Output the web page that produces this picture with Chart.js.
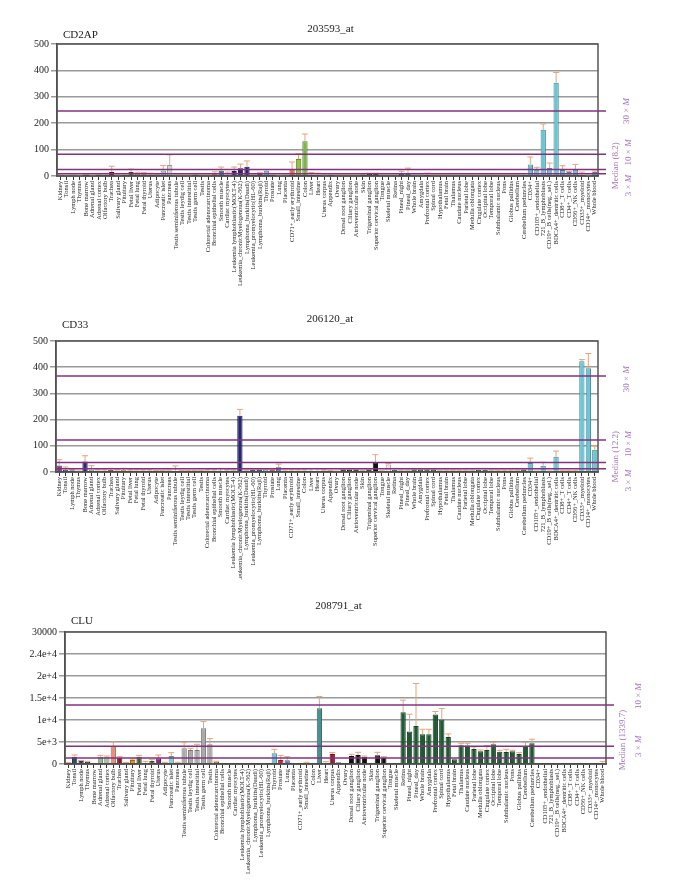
<!DOCTYPE html>
<html>
<head>
<meta charset="utf-8">
<script src="https://cdn.jsdelivr.net/npm/chart.js@4"></script>
<style>
  body { margin: 0; background: #fff; width: 680px; height: 881px; position: relative; overflow: hidden; }
  canvas { position: absolute; left: 0; }
</style>
</head>
<body>
<canvas id="c1" width="680" height="292" style="top:0px"></canvas>
<canvas id="c2" width="680" height="290" style="top:292px"></canvas>
<canvas id="c3" width="680" height="301" style="top:580px"></canvas>
<script>
// tissue names (same order in all three panels)
const tissues = ['Kidney', 'Tonsil', 'Lymph node', 'Thymus', 'Bone marrow', 'Adrenal gland', 'Adrenal cortex',
  'Olfactory bulb', 'Trachea', 'Salivary gland', 'Pituitary', 'Fetal liver', 'Fetal lung', 'Fetal thyroid',
  'Uterus', 'Adipocyte', 'Pancreatic islet', 'Pancreas', 'Testis seminiferous tubule', 'Testis leydig cell',
  'Testis interstitial', 'Testis germ cell', 'Testis', 'Colorectal adenocarcinoma', 'Bronchial epithelial cells',
  'Smooth muscle', 'Cardiac myocytes', 'Leukemia lymphoblastic(MOLT-4)', 'Leukemia_chronicMyelogenous(K-562)',
  'Lymphoma_burkitts(Daudi)', 'Leukemia_promyelocytic(HL-60)', 'Lymphoma_burkitts(Raji)', 'Thyroid', 'Prostate',
  'Lung', 'Placenta', 'CD71+_early erythroid', 'Small_intestine', 'Colon', 'Liver', 'Heart', 'Uterus corpus',
  'Appendix', 'Ovary', 'Dorsal root ganglion', 'Ciliary ganglion', 'Atrioventricular node', 'Skin',
  'Trigeminal ganglion', 'Superior cervical ganglion', 'Tongue', 'Skeletal muscle', 'Retina', 'Pineal_night',
  'Pineal_day', 'Whole brain', 'Amygdala', 'Prefrontal cortex', 'Spinal cord', 'Hypothalamus', 'Fetal brain',
  'Thalamus', 'Caudate nucleus', 'Parietal lobe', 'Medulla oblongata', 'Cingulate cortex', 'Occipital lobe',
  'Temporal lobe', 'Subthalamic nucleus', 'Pons', 'Globus pallidus', 'Cerebellum', 'Cerebellum peduncles',
  'CD34+', 'CD105+_endothelial', '721_B_lymphoblasts', 'CD19+_B cells(neg._sel.)', 'BDCA4+_dentritic cells',
  'CD8+_T cells', 'CD4+_T cells', 'CD56+_NK cells', 'CD33+_myeloid', 'CD14+_monocytes', 'Whole blood'];

// CD2AP  203593_at
const cd2apValues = [3, 2, 3, 2, 4, 2, 5, 6, 15, 3,
  6, 15, 8, 7, 6, 3, 21, 42, 3, 3,
  3, 4, 3, 3, 11, 20, 5, 19, 29, 35,
  5, 8, 20, 5, 2, 3, 25, 64, 132, 5,
  3, 3, 5, 3, 3, 3, 3, 6, 8, 8,
  3, 3, 3, 8, 8, 3, 3, 5, 3, 3,
  3, 3, 3, 3, 3, 3, 3, 3, 3, 3,
  3, 3, 5, 44, 24, 175, 30, 353, 23, 15,
  24, 5, 2, 15];
const cd2apErrors = [1, 1, 1, 1, 2, 1, 2, 4, 22, 1,
  3, 11, 6, 6, 5, 2, 19, 38, 1, 1,
  1, 2, 1, 1, 5, 14, 10, 15, 16, 22,
  2, 6, 4, 3, 1, 1, 28, 20, 27, 8,
  8, 1, 3, 1, 1, 1, 1, 2, 3, 3,
  1, 1, 1, 10, 22, 1, 1, 6, 1, 1,
  1, 1, 1, 1, 1, 1, 1, 1, 1, 1,
  1, 1, 4, 28, 9, 22, 19, 39, 16, 2,
  20, 10, 1, 4];
const cd2apMedian = 8.2;

// CD33  206120_at
const cd33Values = [25, 8, 7, 3, 40, 8, 6, 6, 8, 6,
  8, 6, 6, 6, 6, 5, 5, 5, 5, 5,
  5, 5, 5, 6, 6, 6, 6, 6, 215, 6,
  8, 8, 8, 8, 18, 6, 6, 6, 6, 6,
  6, 6, 5, 3, 8, 8, 8, 6, 8, 37,
  4, 29, 8, 6, 6, 8, 8, 8, 8, 6,
  6, 6, 6, 6, 6, 8, 8, 6, 6, 6,
  6, 6, 8, 34, 3, 24, 3, 58, 4, 4,
  4, 423, 396, 85];
const cd33Errors = [22, 11, 3, 1, 22, 16, 2, 2, 6, 2,
  6, 2, 2, 2, 2, 1, 1, 2, 18, 1,
  1, 1, 1, 2, 2, 8, 2, 2, 24, 2,
  3, 2, 2, 2, 12, 2, 2, 2, 2, 7,
  7, 2, 1, 1, 2, 2, 2, 1, 2, 29,
  1, 3, 6, 1, 1, 2, 2, 2, 2, 1,
  1, 1, 1, 1, 1, 6, 6, 1, 1, 1,
  1, 1, 3, 19, 1, 13, 1, 22, 1, 1,
  1, 6, 56, 15];
const cd33Median = 12.2;

// CLU  208791_at
const cluValues = [230, 1670, 680, 530, 0, 1670, 1670, 4100, 1440, 300,
  900, 1670, 300, 680, 1290, 300, 1820, 300, 3570, 3190,
  3190, 8120, 4480, 530, 0, 0, 0, 0, 0, 0,
  0, 0, 2430, 910, 835, 100, 0, 100, 200, 12680,
  300, 2280, 400, 150, 1820, 2050, 1670, 0, 1970, 1370,
  150, 0, 11780, 7370, 8660, 6760, 6760, 11250, 10100, 6150,
  1060, 4250, 4180, 3420, 2890, 3190, 4480, 2810, 2740, 2890,
  2280, 4100, 4710, 0, 0, 0, 0, 0, 0, 0,
  0, 0, 0, 300];
const cluErrors = [80, 380, 100, 80, 0, 300, 150, 900, 230, 60,
  230, 300, 300, 380, 760, 100, 760, 100, 1290, 380,
  1290, 1520, 1290, 100, 0, 0, 0, 0, 0, 0,
  0, 0, 910, 1060, 840, 0, 0, 300, 0, 2650,
  230, 300, 0, 0, 380, 610, 150, 0, 680, 300,
  0, 0, 2740, 3950, 9640, 1140, 1140, 680, 2500, 690,
  0, 460, 530, 460, 300, 990, 380, 300, 600, 230,
  300, 760, 910, 0, 0, 0, 0, 0, 0, 0,
  0, 0, 0, 300];
const cluMedian = 1339.7;
const cluTickLabels = ['0', '5e+3', '1e+4', '1.5e+4', '2e+4', '2.4e+4', '30000'];

// one colour per tissue
const palette = ['#7a3b8f', '#2e4a62', '#3b3b78', '#2b2b5e', '#2a2a7a', '#8fbf8f', '#a3c29a',
  '#e8907a', '#8b1a2b', '#d9655a', '#e8902a', '#4b5e2a', '#d8a868', '#5a6e2a',
  '#8a2a8a', '#d9b87a', '#8ccfcf', '#c9dcc9', '#aaaaaa', '#aaaaaa',
  '#aaaaaa', '#aaaaaa', '#aaaaaa', '#a0702a', '#b8864a',
  '#2a8080', '#2a7a88', '#262673', '#262673',
  '#262673', '#262673', '#262673', '#6ec6dc', '#c8283c',
  '#5a7ec8', '#e0a080', '#e06a3a', '#8cc63f', '#7ab648', '#4a9090', '#e8b8a0', '#9a1a30',
  '#7a4a9a', '#5a3a8a', '#111111', '#111111', '#111111', '#111111',
  '#111111', '#111111', '#f5d5d5', '#f8e0e0', '#1f5a33', '#1f5a33',
  '#1f5a33', '#1f5a33', '#1f5a33', '#1f5a33', '#1f5a33', '#1f5a33', '#1f5a33',
  '#1f5a33', '#1f5a33', '#1f5a33', '#1f5a33', '#1f5a33', '#1f5a33',
  '#1f5a33', '#1f5a33', '#1f5a33', '#1f5a33', '#1f5a33', '#1f5a33',
  '#6cc5d5', '#6cc5d5', '#6cc5d5', '#6cc5d5', '#6cc5d5',
  '#6cc5d5', '#6cc5d5', '#6cc5d5', '#6cc5d5', '#6cc5d5', '#6cc5d5'];

const SERIF = '"Liberation Serif", "DejaVu Serif", serif';

function darken(hex, f) {
  let n = parseInt(hex.slice(1), 16)
  let r = Math.round((n >> 16) * f), g = Math.round(((n >> 8) & 255) * f), b = Math.round((n & 255) * f)
  return 'rgb(' + r + ',' + g + ',' + b + ')'
}

// rotated label on the right side, "M" in italics
function sideLabel(ctx, pre, italic, x, y) {
  ctx.save()
  ctx.translate(x, y)
  ctx.rotate(-Math.PI / 2)
  ctx.fillStyle = '#a674bc'
  ctx.textBaseline = 'middle'
  ctx.textAlign = 'left'
  ctx.font = '9px ' + SERIF
  let w1 = ctx.measureText(pre).width
  let w2 = 0
  if (italic) {
    ctx.font = 'italic 9px ' + SERIF
    w2 = ctx.measureText(italic).width
  }
  let start = -(w1 + w2) / 2
  ctx.font = '9px ' + SERIF
  ctx.fillText(pre, start, 0)
  if (italic) {
    ctx.font = 'italic 9px ' + SERIF
    ctx.fillText(italic, start + w1, 0)
  }
  ctx.restore()
}

const extras = {
  id: 'extras',
  afterDatasetsDraw(chart, args, opts) {
    const { ctx, chartArea: a, scales: { y } } = chart
    const meta = chart.getDatasetMeta(0)
    const vals = chart.data.datasets[0].data
    ctx.save()
    // error bars
    ctx.strokeStyle = '#e2a57e'
    ctx.lineWidth = 1
    opts.errors.forEach((e, i) => {
      if (!e) return
      const bar = meta.data[i]
      const top = y.getPixelForValue(vals[i] + e)
      ctx.beginPath()
      ctx.moveTo(bar.x, bar.y)
      ctx.lineTo(bar.x, top)
      ctx.moveTo(bar.x - 3, top)
      ctx.lineTo(bar.x + 3, top)
      ctx.stroke()
    })
    // frame
    ctx.strokeStyle = '#555'
    ctx.lineWidth = 1.5
    ctx.strokeRect(a.left, a.top, a.width, a.height)
    // median lines
    ctx.strokeStyle = '#84307f'
    ctx.lineWidth = 1.5
    opts.lines.forEach(l => {
      const py = y.getPixelForValue(opts.median * l.m)
      ctx.beginPath()
      ctx.moveTo(a.left, py)
      ctx.lineTo(a.right + 8, py)
      ctx.stroke()
      if (l.m === 1) sideLabel(ctx, 'Median (' + opts.median + ')', '', a.right + l.dx, py + l.dy)
      else sideLabel(ctx, l.m + ' \u00d7 ', 'M', a.right + l.dx, py + l.dy)
    })
    // titles
    ctx.fillStyle = '#222'
    ctx.font = '11px ' + SERIF
    ctx.textBaseline = 'middle'
    ctx.textAlign = 'center'
    ctx.fillText(opts.probe, (a.left + a.right) / 2 + 3, a.top - opts.probeDy)
    ctx.textAlign = 'left'
    ctx.fillText(opts.gene, a.left + 6, a.top - opts.geneDy)
    ctx.restore()
  }
}

function makeChart(id, cfg) {
  const cv = document.getElementById(id)
  const yW = 40
  return new Chart(cv, {
    type: 'bar',
    data: {
      labels: tissues,
      datasets: [{
        data: cfg.values,
        backgroundColor: palette,
        borderColor: palette.map(c => darken(c, 0.7)),
        borderWidth: 1,
        barPercentage: 0.82,
        categoryPercentage: 1
      }]
    },
    options: {
      responsive: false,
      animation: false,
      devicePixelRatio: 1,
      layout: {
        padding: { left: cfg.area.l - yW, right: 680 - cfg.area.r, top: cfg.area.t, bottom: 2 }
      },
      plugins: {
        legend: { display: false },
        tooltip: { enabled: false },
        extras: {
          errors: cfg.errors, median: cfg.median, lines: cfg.lines,
          probe: cfg.probe, gene: cfg.gene, probeDy: cfg.probeDy, geneDy: cfg.geneDy
        }
      },
      scales: {
        x: {
          afterFit: s => { s.height = cv.height - cfg.area.b - 2 },
          grid: { display: true, drawOnChartArea: false, drawTicks: true, tickLength: 4, color: '#333', offset: false },
          border: { display: true, color: '#333', width: 1.5 },
          ticks: {
            autoSkip: false, minRotation: 90, maxRotation: 90, padding: 1,
            color: '#222', font: { family: SERIF, size: 6.5 }
          }
        },
        y: {
          min: 0, max: cfg.max,
          afterFit: s => { s.width = yW },
          grid: { color: '#9a9a9a', lineWidth: 1.5, tickLength: 6, drawTicks: true },
          border: { display: true, color: '#444', width: 1.5 },
          ticks: {
            stepSize: cfg.step, padding: 2, color: '#222',
            font: { family: SERIF, size: 10 },
            callback: cfg.tickCb
          }
        }
      }
    },
    plugins: [extras]
  })
}

makeChart('c1', {
  values: cd2apValues, errors: cd2apErrors, median: cd2apMedian,
  area: { l: 57, r: 598, t: 44, b: 176 }, max: 500, step: 100,
  probe: '203593_at', gene: 'CD2AP', probeDy: 15, geneDy: 9,
  lines: [{ m: 1, dx: 18, dy: -8 }, { m: 3, dx: 31, dy: 16 }, { m: 10, dx: 31, dy: -2 }, { m: 30, dx: 29, dy: 0 }]
})

makeChart('c2', {
  values: cd33Values, errors: cd33Errors, median: cd33Median,
  area: { l: 56, r: 598, t: 49, b: 180 }, max: 500, step: 100,
  probe: '206120_at', gene: 'CD33', probeDy: 22, geneDy: 16,
  lines: [{ m: 1, dx: 18, dy: -12 }, { m: 3, dx: 31, dy: 18 }, { m: 10, dx: 31, dy: 4 }, { m: 30, dx: 29, dy: 3 }]
})

makeChart('c3', {
  values: cluValues, errors: cluErrors, median: cluMedian,
  area: { l: 65, r: 606, t: 52, b: 184 }, max: 30000, step: 5000,
  probe: '208791_at', gene: 'CLU', probeDy: 26, geneDy: 11,
  tickCb: (v, i) => cluTickLabels[i],
  lines: [{ m: 1, dx: 17, dy: -18 }, { m: 3, dx: 33, dy: 0 }, { m: 10, dx: 33, dy: -9 }]
})
</script>
</body>
</html>
